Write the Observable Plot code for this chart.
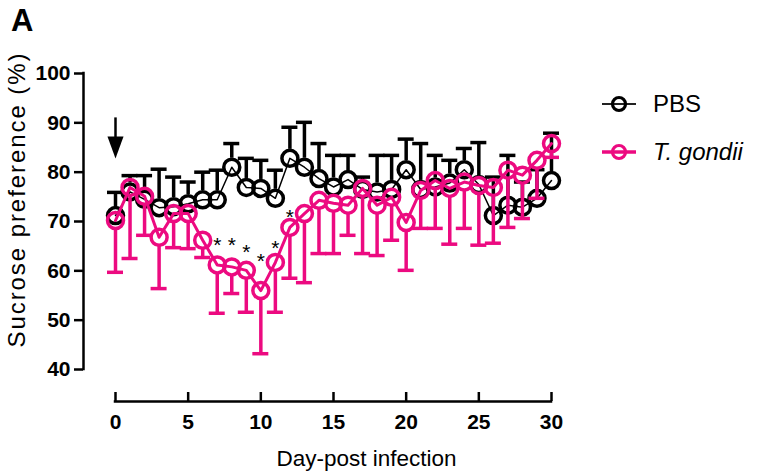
<!DOCTYPE html>
<html><head><meta charset="utf-8">
<script src="https://cdn.jsdelivr.net/npm/d3@7"></script>
<script src="https://cdn.jsdelivr.net/npm/@observablehq/plot@0.6"></script>
<style>
body{margin:0;background:#fff;font-family:"Liberation Sans",Arial,sans-serif;}
#wrap{position:relative;width:758px;height:475px;}
#panel{position:absolute;left:11px;top:3px;font-size:31px;font-weight:bold;}
#legend{position:absolute;left:600px;top:80px;font-size:24px;}
.item{display:flex;align-items:center;height:48px;}
.item span{margin-left:15px;}
</style></head><body>
<div id="wrap"><div id="chart"></div><div id="panel">A</div><div id="legend"></div></div>
<script>
const days = [0,1,2,3,4,5,6,7,8,9,10,11,12,13,14,15,16,17,18,19,20,21,22,23,24,25,26,27,28,29,30];
const pbsMean  = [71.2,76.0,74.5,72.8,73.0,73.6,74.4,74.4,81.0,76.9,76.7,74.7,82.8,81.0,78.7,77.0,78.5,76.5,76.0,76.5,80.5,76.5,77.0,77.8,80.5,77.5,71.2,73.3,72.9,74.7,78.3];
const pbsUpper = [75.9,79.3,79.3,80.6,79.0,78.0,80.0,80.4,85.8,82.8,82.4,80.4,89.1,90.1,85.8,83.4,83.4,79.0,83.4,83.4,86.7,85.8,83.4,82.4,84.8,86.0,79.0,83.4,78.0,80.5,87.9];
const tgMean   = [70.2,76.9,75.1,66.8,71.6,71.6,66.2,61.2,60.8,60.1,56.0,61.7,68.8,71.6,74.3,73.7,73.3,76.7,73.3,74.9,69.8,76.3,78.3,76.7,78.0,77.3,76.9,80.4,79.4,82.4,85.8];
const tgLower  = [59.7,62.5,67.2,56.4,64.7,64.5,62.7,51.4,55.4,51.6,43.2,51.6,58.5,57.6,63.5,63.5,67.2,63.5,63.1,66.2,60.1,68.6,68.6,65.4,68.6,65.2,65.6,68.8,70.6,74.7,83.0];
const starDays = [7,8,9,10,11,12];
const starY    = [66.2,66.2,64.8,63.0,65.6,71.9];
const xTicks = [0,5,10,15,20,25,30];
const yTicks = [40,50,60,70,80,90,100];
const arrowDay = [0];
const arrowTop = 91, arrowHead = 85;
const seriesNames = ["PBS", "T. gondii"];
const yLabel = "Sucrose preference (%)";
const xLabel = "Day-post infection";

const pink = "#EC0A80";
const data = days.map((d,i)=>({day:d, pbs:pbsMean[i], pbsHi:pbsUpper[i], tg:tgMean[i], tgLo:tgLower[i]}));
const stars = starDays.map((d,i)=>({day:d, y:starY[i]}));
const downTri = {draw(ctx, size){ const r = Math.sqrt(size/Math.PI); ctx.moveTo(-0.73*r,-r); ctx.lineTo(0.73*r,-r); ctx.lineTo(0,r); ctx.closePath(); }};

const plot = Plot.plot({
  width: 758, height: 475,
  marginLeft: 115, marginRight: 207, marginTop: 73, marginBottom: 106,
  x: {domain: [0,30]}, y: {domain: [40,100]},
  style: {fontFamily: '"Liberation Sans", Arial, sans-serif', background: "white", color: "black"},
  marks: [
    Plot.ruleX([0], {y1: 40, y2: 100, dx: -32, strokeWidth: 2.5, strokeLinecap: "square"}),
    Plot.axisY({ticks: yTicks, tickSize: 9, tickPadding: 4, dx: -32, fontSize: 21, fontWeight: "bold", strokeWidth: 2.5, label: null}),
    Plot.ruleY([40], {x1: 0, x2: 30, dy: 32, strokeWidth: 2.5, strokeLinecap: "square"}),
    Plot.ruleX(xTicks, {x: d=>d, y1: 40, y2: 40, insetTop: -9, dy: 32, strokeWidth: 2.5}),
    Plot.axisX({ticks: xTicks, tickSize: 0, tickPadding: 13, dy: 32, fontSize: 21, fontWeight: "bold", label: null}),
    Plot.text([yLabel], {frameAnchor: "left", textAnchor: "middle", lineAnchor: "middle", rotate: -90, dx: -98, dy: -21, fontSize: 24}),
    Plot.text([xLabel], {frameAnchor: "bottom", textAnchor: "middle", lineAnchor: "middle", dx: 33, dy: 89, fontSize: 22.5}),
    // PBS
    Plot.line(data, {x: "day", y: "pbs", stroke: "black", strokeWidth: 1.5}),
    Plot.ruleX(data, {x: "day", y1: "pbsHi", y2: "pbs", insetBottom: 9, stroke: "black", strokeWidth: 3.5}),
    Plot.ruleY(data, {y: "pbsHi", x1: "day", x2: "day", insetLeft: -8, insetRight: -8, stroke: "black", strokeWidth: 3.5}),
    Plot.dot(data, {x: "day", y: "pbs", r: 8, stroke: "black", strokeWidth: 3.5, fill: "none"}),
    // T. gondii
    Plot.line(data, {x: "day", y: "tg", stroke: pink, strokeWidth: 3}),
    Plot.ruleX(data, {x: "day", y1: "tg", y2: "tgLo", insetTop: 9, stroke: pink, strokeWidth: 3.5}),
    Plot.ruleY(data, {y: "tgLo", x1: "day", x2: "day", insetLeft: -8, insetRight: -8, stroke: pink, strokeWidth: 3.5}),
    Plot.dot(data, {x: "day", y: "tg", r: 8, stroke: pink, strokeWidth: 3.5, fill: "none"}),
    // stars and arrow
    Plot.text(stars, {x: "day", y: "y", text: d=>"*", fontSize: 21, dy: 5}),
    Plot.ruleX(arrowDay, {x: d=>d, y1: arrowTop, y2: arrowHead, strokeWidth: 2.5}),
    Plot.dot(arrowDay, {x: d=>d, y: arrowHead, symbol: downTri, r: 11, fill: "black"})
  ]
});
d3.select(plot).selectAll("text").filter(function(){ return this.textContent === yLabel; })
  .attr("textLength", 294).attr("lengthAdjust", "spacing");
document.getElementById("chart").appendChild(plot);

const legend = document.getElementById("legend");
const lstyles = [{c:"#222", w:2, italic:false}, {c:pink, w:3.5, italic:true}];
seriesNames.forEach((n,i)=>{
  const s = lstyles[i];
  const item = document.createElement("div"); item.className = "item";
  item.innerHTML = `<svg width="38" height="24"><line x1="2" x2="36" y1="12" y2="12" stroke="${s.c}" stroke-width="${s.w}"/><circle cx="19" cy="12" r="6.5" fill="none" stroke="${i?pink:'black'}" stroke-width="3.2"/></svg><span style="${s.italic?'font-style:italic':''}">${n}</span>`;
  legend.appendChild(item);
});
</script>
</body></html>
